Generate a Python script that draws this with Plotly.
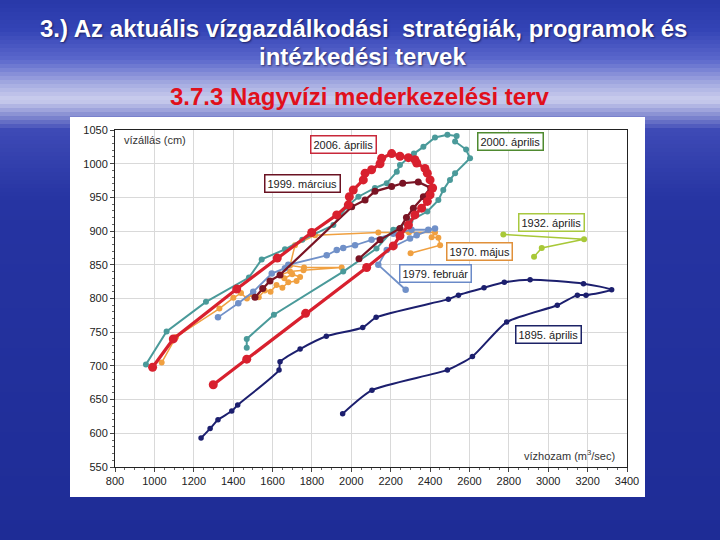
import plotly.graph_objects as go

# ---------------- data (discharge m3/s, water level cm) ----------------
q_1895 = [1237, 1283, 1323, 1393, 1423, 1633, 1638, 1740, 1873, 2058, 2126, 2493, 2544, 2674,
          2777, 2908, 3179, 3322, 3192, 3148, 3046, 2789, 2615, 2488, 2105, 1956]
h_1895 = [593, 607, 620, 633, 642, 694, 706, 725, 744, 757, 772, 799, 805, 816,
          824, 828, 822, 813, 805, 805, 790, 765, 714, 694, 664, 629]

q_2006 = [1299, 1469, 1768, 2078, 2213, 2247, 2290, 2323, 2357, 2386, 2400, 2413, 2400, 2386,
          2374, 2332, 2323, 2290, 2247, 2205, 2154, 2146, 2103, 2070, 2061, 2010, 1990, 1985,
          1926, 1799, 1624, 1418, 1096, 991]
h_2006 = [672, 710, 778, 846, 878, 893, 909, 924, 934, 944, 954, 964, 976, 986,
          993, 1001, 1006, 1009, 1011, 1015, 1008, 1000, 991, 986, 976, 961, 951, 939,
          924, 898, 860, 814, 740, 698]

q_1999 = [1511, 1550, 1587, 1638, 2002, 2070, 2120, 2205, 2261, 2340, 2403, 2366, 2315, 2280,
          2247, 2146, 2039]
h_1999 = [802, 815, 826, 835, 936, 946, 959, 966, 971, 973, 964, 951, 934, 920,
          904, 887, 859]

q_2000 = [957, 1062, 1262, 1480, 1545, 1663, 1751, 1909, 1977, 2036, 2120, 2180, 2231, 2247,
          2318, 2366, 2425, 2488, 2535, 2527, 2583, 2603, 2527, 2501, 2467, 2442, 2386, 2300,
          2213, 2128, 1959, 1607, 1469, 1469]
h_2000 = [702, 751, 795, 831, 858, 873, 887, 909, 936, 951, 964, 971, 988, 998,
          1015, 1025, 1039, 1043, 1041, 1033, 1021, 1008, 986, 976, 961, 946, 929, 915,
          902, 874, 840, 776, 740, 727]

q_1979 = [1323, 1426, 1502, 1596, 1663, 1680, 1875, 1926, 1959, 2019, 2103, 2213, 2306, 2391,
          2425, 2332, 2298, 2180, 2137, 2276]
h_1979 = [772, 793, 810, 837, 845, 850, 864, 872, 875, 879, 887, 896, 902, 902,
          904, 894, 889, 872, 850, 813]

q_1970 = [1037, 1110, 1330, 1401, 1440, 1470, 1500, 1530, 1560, 1590, 1620, 1650, 1680, 1722,
          1740, 1700, 1660, 1640, 1689, 1757, 1951, 1760, 1689, 1714, 1816, 2137, 2293, 2425,
          2408, 2442, 2451, 2301]
h_1970 = [705, 743, 785, 801, 808, 800, 806, 802, 812, 810, 820, 816, 824, 826,
          832, 836, 830, 835, 840, 842, 846, 846, 849, 879, 894, 898, 898, 898,
          891, 890, 879, 867]

q_1932 = [2772, 3182, 2967, 2928]
h_1932 = [895, 888, 875, 862]

labels = ["2006. április", "1999. március", "2000. április", "1932. április",
          "1970. május", "1979. február", "1895. április"]
label_q = [1958, 1750, 2806, 3016, 2651, 2428, 3002]
label_h = [1029, 970, 1033, 913, 870, 837, 746]
label_border = ["#c8283a", "#6a1222", "#4f8a30", "#a8c840", "#e0903a", "#6a8ac8", "#1c2266"]

x_ticks = list(range(800, 3401, 200))
y_ticks = list(range(550, 1051, 50))

title1 = "3.) Az aktuális vízgazdálkodási  stratégiák, programok és"
title2 = "intézkedési tervek"
title3 = "3.7.3 Nagyvízi mederkezelési terv"

# ---------------- layout geometry ----------------
W, H = 720, 540
L, R, T, B = 115, 93, 130, 73
PW, PH = W - L - R, H - T - B


def px(x):
    return (x - L) / PW


def py(y):
    return (H - B - y) / PH


fig = go.Figure()

series = [
    (q_1970, h_1970, "#f0a040", 1.5, 6, "linear"),
    (q_1932, h_1932, "#a8c838", 1.5, 6, "linear"),
    (q_1979, h_1979, "#7090c8", 1.8, 6.5, "linear"),
    (q_2000, h_2000, "#4a9a9a", 2.0, 6, "linear"),
    (q_1895, h_1895, "#1c1f6e", 2.0, 5.5, "spline"),
    (q_1999, h_1999, "#7a1424", 2.2, 7, "linear"),
    (q_2006, h_2006, "#d8202e", 3.2, 9, "linear"),
]
for xs, ys, col, lw, ms, shape in series:
    fig.add_trace(go.Scatter(
        x=xs, y=ys, mode="lines+markers",
        line=dict(color=col, width=lw, shape=shape, smoothing=0.6),
        marker=dict(color=col, size=ms),
        hoverinfo="skip", showlegend=False))

# ---------------- background (slide gradient) ----------------
stops = [(0, (40, 56, 168)), (30, (52, 68, 182)), (60, (92, 104, 204)), (85, (168, 174, 226)),
         (100, (204, 206, 238)), (112, (150, 156, 216)), (130, (62, 74, 182)),
         (200, (38, 52, 162)), (540, (30, 44, 150))]


def col_at(y):
    for (y0, c0), (y1, c1) in zip(stops[:-1], stops[1:]):
        if y0 <= y <= y1:
            t = (y - y0) / (y1 - y0)
            return "rgb(%d,%d,%d)" % tuple(round(a + (b - a) * t) for a, b in zip(c0, c1))
    return "rgb(%d,%d,%d)" % stops[-1][1]


shapes = []
step = 4
for y in range(0, H, step):
    shapes.append(dict(type="rect", xref="paper", yref="paper", layer="below",
                       x0=px(0), x1=px(W), y0=py(y + step + 0.5), y1=py(y),
                       fillcolor=col_at(y + step / 2), line=dict(width=0)))
# white picture panel
shapes.append(dict(type="rect", xref="paper", yref="paper", layer="below",
                   x0=px(70), x1=px(645), y0=py(497), y1=py(117),
                   fillcolor="white", line=dict(width=0)))

annotations = [
    dict(text=title1, x=px(363), y=py(29), xref="paper", yref="paper", showarrow=False,
         xanchor="center", yanchor="middle",
         font=dict(family="Liberation Sans, Arial", size=24, color="white", weight="bold",
                   shadow="1px 1px 2px rgba(0,0,40,0.6)")),
    dict(text=title2, x=px(362), y=py(57), xref="paper", yref="paper", showarrow=False,
         xanchor="center", yanchor="middle",
         font=dict(family="Liberation Sans, Arial", size=24, color="white", weight="bold",
                   shadow="1px 1px 2px rgba(0,0,40,0.6)")),
    dict(text=title3, x=px(360), y=py(96), xref="paper", yref="paper", showarrow=False,
         xanchor="center", yanchor="middle",
         font=dict(family="Liberation Sans, Arial", size=24, color="#e0101c", weight="bold")),
    dict(text="vízállás (cm)", x=px(122), y=py(140), xref="paper", yref="paper",
         showarrow=False, xanchor="left", yanchor="middle",
         font=dict(family="Liberation Sans, Arial", size=11, color="#333")),
    dict(text="vízhozam (m<sup>3</sup>/sec)", x=px(617), y=py(455), xref="paper", yref="paper",
         showarrow=False, xanchor="right", yanchor="middle",
         font=dict(family="Liberation Sans, Arial", size=11, color="#333")),
]
for t, qx, hy, bc in zip(labels, label_q, label_h, label_border):
    annotations.append(dict(text=t, x=qx, y=hy, xref="x", yref="y", showarrow=False,
                            xanchor="center", yanchor="middle", bgcolor="white",
                            bordercolor=bc, borderwidth=1.5, borderpad=2,
                            font=dict(family="Liberation Sans, Arial", size=11, color="#222")))

axis_common = dict(showgrid=True, gridcolor="#d9d9d9", gridwidth=1, zeroline=False,
                   showline=True, linecolor="#222", linewidth=1, mirror=True,
                   ticks="outside", ticklen=4, tickcolor="#444",
                   tickfont=dict(family="Liberation Sans, Arial", size=11, color="#222"))

fig.update_layout(
    width=W, height=H, autosize=False,
    margin=dict(l=L, r=R, t=T, b=B, pad=0),
    paper_bgcolor="rgb(30,44,150)", plot_bgcolor="white",
    showlegend=False, hovermode=False,
    shapes=shapes, annotations=annotations,
    xaxis=dict(range=[800, 3400], tickvals=x_ticks, **axis_common,
               minor=dict(dtick=50, ticks="outside", ticklen=2, tickcolor="#666", showgrid=False)),
    yaxis=dict(range=[550, 1050], tickvals=y_ticks, **axis_common,
               minor=dict(dtick=10, ticks="outside", ticklen=2, tickcolor="#666", showgrid=False)),
)

fig.write_html("out.html")
